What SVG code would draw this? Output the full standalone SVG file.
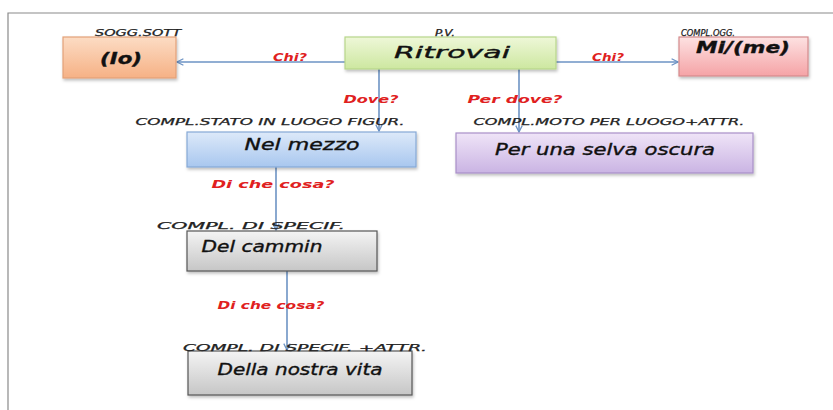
<svg xmlns="http://www.w3.org/2000/svg" width="833" height="410" viewBox="0 0 833 410">
<defs>
<linearGradient id="gOr" x1="0" y1="0" x2="0" y2="1"><stop offset="0" stop-color="#fcdcc4"/><stop offset="1" stop-color="#f6b185"/></linearGradient>
<linearGradient id="gGr" x1="0" y1="0" x2="0" y2="1"><stop offset="0" stop-color="#eef7d8"/><stop offset="1" stop-color="#cde7a0"/></linearGradient>
<linearGradient id="gPk" x1="0" y1="0" x2="0" y2="1"><stop offset="0" stop-color="#fde2e2"/><stop offset="1" stop-color="#f5a3a6"/></linearGradient>
<linearGradient id="gBl" x1="0" y1="0" x2="0" y2="1"><stop offset="0" stop-color="#dde9f9"/><stop offset="1" stop-color="#a8c7ef"/></linearGradient>
<linearGradient id="gPu" x1="0" y1="0" x2="0" y2="1"><stop offset="0" stop-color="#efe4f7"/><stop offset="1" stop-color="#cab4e3"/></linearGradient>
<linearGradient id="gGy" x1="0" y1="0" x2="0" y2="1"><stop offset="0" stop-color="#f4f4f4"/><stop offset="1" stop-color="#c6c6c6"/></linearGradient>
<filter id="sh" x="-10%" y="-20%" width="130%" height="150%"><feDropShadow dx="1" dy="2" stdDeviation="1.5" flood-color="#000" flood-opacity="0.25"/></filter>
<marker id="arr" viewBox="0 0 10 10" refX="9" refY="5" markerWidth="8" markerHeight="8" orient="auto" markerUnits="userSpaceOnUse">
<path d="M1,1 L9,5 L1,9" fill="none" stroke="#6d93c4" stroke-width="1.6"/>
</marker>
<style>
.box{stroke-width:1.2;filter:url(#sh)}
.conn{stroke:#6d93c4;stroke-width:1.6;fill:none;marker-end:url(#arr)}
.q{font-family:"DejaVu Sans",sans-serif;font-style:italic;font-weight:bold;font-size:11px;fill:#e02020;text-anchor:middle;dominant-baseline:central}
.cap{font-family:"DejaVu Sans",sans-serif;font-style:italic;font-size:8.5px;fill:#222;stroke:#222;stroke-width:0.25;text-anchor:middle;dominant-baseline:central}
.nt{font-family:"DejaVu Sans",sans-serif;font-style:italic;font-size:15px;fill:#111;stroke:#111;stroke-width:0.35;text-anchor:middle;dominant-baseline:central}
</style>
</defs>
<rect width="833" height="410" fill="#fff"/>
<path d="M8,410 V13 H833" fill="none" stroke="#8a8a8a" stroke-width="1.2"/>

<g id="connectors">
<line class="conn" x1="345" y1="62" x2="177" y2="62"/>
<line class="conn" x1="556" y1="62" x2="678" y2="62"/>
<line class="conn" x1="379" y1="69" x2="379" y2="131"/>
<line class="conn" x1="519" y1="69" x2="519" y2="132"/>
<line class="conn" x1="276" y1="167" x2="276" y2="230"/>
<line class="conn" x1="287" y1="271" x2="287" y2="350"/>
<text class="q" x="290" y="57" textLength="34" lengthAdjust="spacingAndGlyphs">Chi?</text>
<text class="q" x="608" y="57" textLength="32" lengthAdjust="spacingAndGlyphs">Chi?</text>
<text class="q" x="371" y="99" textLength="55" lengthAdjust="spacingAndGlyphs">Dove?</text>
<text class="q" x="515" y="99" textLength="95" lengthAdjust="spacingAndGlyphs">Per dove?</text>
<text class="q" x="273" y="184" textLength="123" lengthAdjust="spacingAndGlyphs">Di che cosa?</text>
<text class="q" x="271" y="305" textLength="107" lengthAdjust="spacingAndGlyphs">Di che cosa?</text>
</g>

<g id="node-io">
<rect class="box" x="63" y="37" width="113" height="41" fill="url(#gOr)" stroke="#e3a178"/>
<text class="cap" x="138" y="33" textLength="86" lengthAdjust="spacingAndGlyphs">SOGG.SOTT</text>
<text class="nt" x="121" y="59" font-weight="bold" textLength="42" lengthAdjust="spacingAndGlyphs">(Io)</text>
</g>

<g id="node-ritrovai">
<rect class="box" x="345" y="37" width="211" height="32" fill="url(#gGr)" stroke="#b7d68a"/>
<text class="cap" x="445" y="33" textLength="20" lengthAdjust="spacingAndGlyphs">P.V.</text>
<text class="nt" x="452" y="53" font-size="18" fill="#e02020" stroke="#e02020" stroke-width="0.3" textLength="116" lengthAdjust="spacingAndGlyphs">Ritrovai</text>
</g>

<g id="node-mi">
<rect class="box" x="679" y="37" width="129" height="39" fill="url(#gPk)" stroke="#d48a8c"/>
<text class="cap" x="708" y="33" textLength="54" lengthAdjust="spacingAndGlyphs">COMPL.OGG.</text>
<text class="nt" x="743" y="48" font-weight="bold" textLength="94" lengthAdjust="spacingAndGlyphs">Mi/(me)</text>
</g>

<g id="node-nel-mezzo">
<rect class="box" x="187" y="132" width="229" height="35" fill="url(#gBl)" stroke="#86a9d6"/>
<text class="cap" x="270" y="122" textLength="269" lengthAdjust="spacingAndGlyphs">COMPL.STATO IN LUOGO FIGUR.</text>
<text class="nt" x="302" y="145" textLength="115" lengthAdjust="spacingAndGlyphs">Nel mezzo</text>
</g>

<g id="node-selva">
<rect class="box" x="456" y="133" width="297" height="40" fill="url(#gPu)" stroke="#a98fc9"/>
<text class="cap" x="609" y="122" textLength="271" lengthAdjust="spacingAndGlyphs">COMPL.MOTO  PER LUOGO+ATTR.</text>
<text class="nt" x="605" y="150" textLength="220" lengthAdjust="spacingAndGlyphs">Per una selva oscura</text>
</g>

<g id="node-cammin">
<rect class="box" x="187" y="231" width="190" height="40" fill="url(#gGy)" stroke="#555"/>
<text class="cap" x="251" y="226" textLength="188" lengthAdjust="spacingAndGlyphs">COMPL. DI  SPECIF.</text>
<text class="nt" x="262" y="247" textLength="121" lengthAdjust="spacingAndGlyphs">Del cammin</text>
</g>

<g id="node-vita">
<rect class="box" x="188" y="351" width="224" height="44" fill="url(#gGy)" stroke="#555"/>
<text class="cap" x="305" y="348" textLength="244" lengthAdjust="spacingAndGlyphs">COMPL. DI  SPECIF. +ATTR.</text>
<text class="nt" x="300" y="370" textLength="165" lengthAdjust="spacingAndGlyphs">Della nostra vita</text>
</g>
</svg>
